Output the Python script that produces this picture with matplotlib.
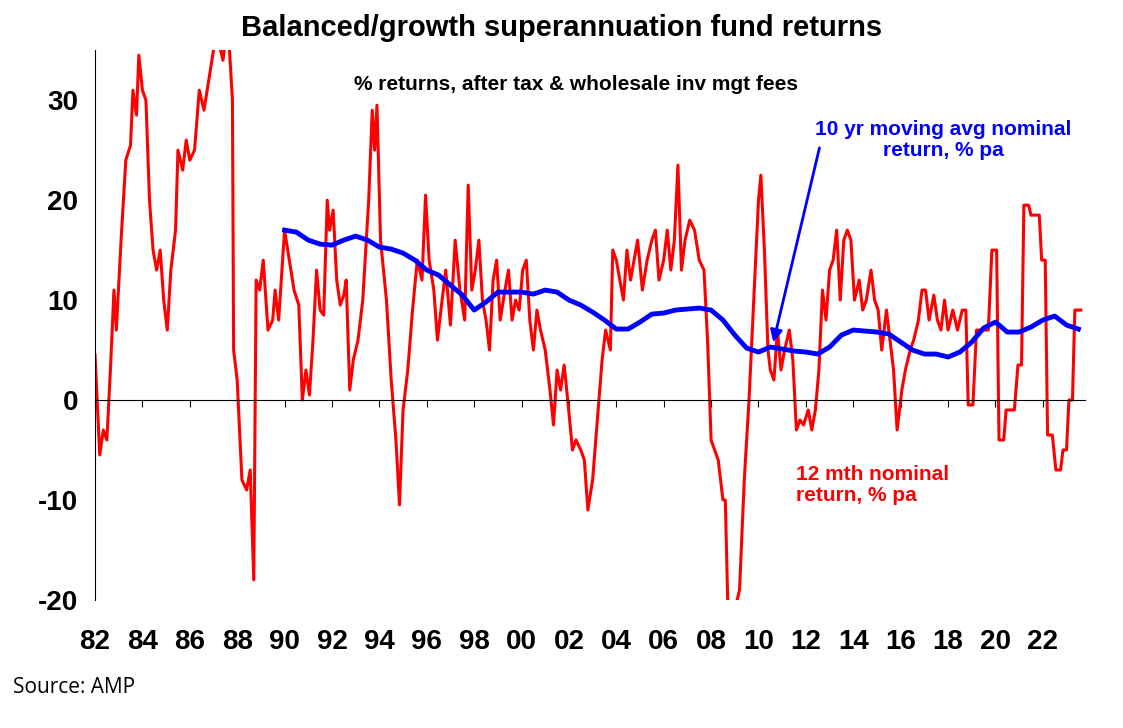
import numpy as np
import matplotlib.pyplot as plt

plt.rcParams['font.family'] = ['Liberation Sans', 'DejaVu Sans']
plt.rcParams['axes.unicode_minus'] = False

# 12 month nominal return (year, % pa)
red_year = [1982.0, 1982.2, 1982.35, 1982.5, 1982.65, 1982.8, 1982.9, 1983.1, 1983.3, 1983.5, 1983.6, 1983.75,
            1983.85, 1984.0, 1984.15, 1984.3, 1984.45, 1984.6, 1984.75, 1984.9, 1985.05, 1985.2, 1985.4, 1985.5,
            1985.7, 1985.85, 1986.0, 1986.2, 1986.4, 1986.6, 1986.8, 1987.0, 1987.2, 1987.4, 1987.6, 1987.8,
            1987.85, 1988.0, 1988.2, 1988.4, 1988.55, 1988.7, 1988.8, 1988.95, 1989.1, 1989.3, 1989.5, 1989.6,
            1989.75, 1990.0, 1990.2, 1990.4, 1990.6, 1990.75, 1990.9, 1991.05, 1991.2, 1991.35, 1991.5, 1991.65,
            1991.8, 1991.9, 1992.05, 1992.2, 1992.35, 1992.5, 1992.6, 1992.75, 1992.9, 1993.1, 1993.3, 1993.55,
            1993.7, 1993.8, 1993.9, 1994.05, 1994.3, 1994.5, 1994.7, 1994.85, 1995.0, 1995.2, 1995.4, 1995.6,
            1995.8, 1995.95, 1996.1, 1996.3, 1996.45, 1996.6, 1996.8, 1997.0, 1997.2, 1997.4, 1997.6, 1997.75,
            1997.9, 1998.05, 1998.2, 1998.35, 1998.5, 1998.65, 1998.8, 1998.95, 1999.1, 1999.3, 1999.45, 1999.6,
            1999.75, 1999.9, 2000.05, 2000.2, 2000.35, 2000.5, 2000.65, 2000.8, 2001.0, 2001.2, 2001.35, 2001.5,
            2001.65, 2001.8, 2001.95, 2002.15, 2002.3, 2002.5, 2002.65, 2002.8, 2003.0, 2003.2, 2003.4, 2003.55,
            2003.75, 2003.85, 2004.0, 2004.15, 2004.3, 2004.45, 2004.6, 2004.75, 2004.9, 2005.1, 2005.3, 2005.5,
            2005.65, 2005.8, 2006.0, 2006.15, 2006.3, 2006.45, 2006.6, 2006.75, 2006.9, 2007.1, 2007.3, 2007.5,
            2007.7, 2007.85, 2008.0, 2008.15, 2008.3, 2008.5, 2008.6, 2008.7, 2009.0, 2009.2, 2009.4, 2009.6,
            2009.8, 2010.0, 2010.1, 2010.25, 2010.4, 2010.5, 2010.65, 2010.8, 2010.95, 2011.1, 2011.3, 2011.45,
            2011.6, 2011.75, 2011.9, 2012.1, 2012.25, 2012.4, 2012.55, 2012.7, 2012.85, 2013.0, 2013.15, 2013.3,
            2013.45, 2013.6, 2013.75, 2013.9, 2014.05, 2014.25, 2014.4, 2014.55, 2014.75, 2014.9, 2015.05, 2015.2,
            2015.4, 2015.55, 2015.7, 2015.85, 2016.05, 2016.2, 2016.4, 2016.55, 2016.75, 2016.9, 2017.05, 2017.2,
            2017.4, 2017.55, 2017.7, 2017.85, 2018.0, 2018.2, 2018.4, 2018.6, 2018.75, 2018.85, 2019.05, 2019.2,
            2019.4, 2019.55, 2019.7, 2019.85, 2019.95, 2020.05, 2020.15, 2020.35, 2020.45, 2020.65, 2020.8, 2020.95,
            2021.1, 2021.2, 2021.4, 2021.5, 2021.7, 2021.85, 2021.95, 2022.1, 2022.2, 2022.4, 2022.55, 2022.75,
            2022.85, 2023.0, 2023.1, 2023.25, 2023.35, 2023.6]
red_val = [4.5, -5.5, -3, -4, 3, 11, 7, 16, 24, 25.5, 31, 28.5,
           34.5, 31, 30, 20, 15, 13, 15, 10, 7, 13, 17, 25,
           23, 26, 24, 25, 31, 29, 32, 35, 36, 34, 38, 30,
           5, 2, -8, -9, -7, -18, 12, 11, 14, 7, 8, 11,
           8, 17, 14, 11, 9.5, 0, 3, 0.5, 6, 13, 9, 8.5,
           20, 17, 19, 12, 9.5, 10.5, 12, 1, 4, 6, 10, 20,
           29, 25, 29.5, 16, 10, 2, -4, -10.5, -1, 3, 9, 14,
           12, 20.5, 14, 11, 6, 9, 13, 7.5, 16, 11, 8, 21.5,
           11, 13, 16, 10, 8, 5, 12, 14, 8, 11, 13, 8,
           10, 9, 13, 14, 8, 5, 9, 7, 5, 1, -2.5, 3,
           1, 3.5, 0, -5, -4, -5, -6, -11, -8, -2, 4, 7,
           5, 15, 14, 12, 10, 15, 12, 14, 16, 11, 14, 16,
           17, 12, 14, 17, 13, 16, 23.5, 13, 16, 18, 17, 14,
           13, 6, -4, -5, -6, -10, -10, -20, -21, -19, -8, 0,
           10, 20, 22.5, 15, 5, 3, 2, 7, 3, 5, 7, 4,
           -3, -2, -2.5, -1, -3, -1, 3, 11, 8, 13, 14, 17,
           10, 16, 17, 16, 10, 12, 9, 10, 13, 10, 9, 5,
           9, 6, 3, -3, 1, 3, 5, 6, 8, 11, 11, 8,
           10.5, 8, 7, 10, 7, 9, 7, 9, 9, -0.5, -0.5, 7,
           7, 7, 7, 15, 15, 15, -4, -4, -1, -1, -1, 3.5,
           3.5, 19.5, 19.5, 18.5, 18.5, 18.5, 14, 14, -3.5, -3.5, -7, -7,
           -5, -5, 0, 0, 9, 9]

# 10 yr moving average nominal return
blue_year = [1990.0, 1990.5, 1991, 1991.5, 1992, 1992.5, 1993, 1993.5, 1994, 1994.5, 1995, 1995.5, 1996,
             1996.5, 1997, 1997.5, 1998, 1998.5, 1999, 1999.5, 2000, 2000.5, 2001, 2001.5, 2002, 2002.5,
             2003, 2003.5, 2004, 2004.5, 2005, 2005.5, 2006, 2006.5, 2007, 2007.5, 2008, 2008.5, 2009,
             2009.5, 2010, 2010.5, 2011, 2011.5, 2012, 2012.5, 2013, 2013.5, 2014, 2014.5, 2015, 2015.5,
             2016, 2016.5, 2017, 2017.5, 2018, 2018.5, 2019, 2019.5, 2020, 2020.5, 2021, 2021.5, 2022,
             2022.5, 2023, 2023.5]
blue_val = [17, 16.8, 16, 15.6, 15.5, 16, 16.4, 16, 15.3, 15.1, 14.7, 14, 13,
            12.5, 11.5, 10.5, 9, 9.8, 10.8, 10.8, 10.8, 10.6, 11, 10.8, 10, 9.5,
            8.8, 8, 7.1, 7.1, 7.8, 8.6, 8.7, 9, 9.1, 9.2, 9.0, 8, 6.5,
            5.2, 4.8, 5.3, 5.1, 4.9, 4.8, 4.6, 5.3, 6.5, 7, 6.9, 6.8, 6.6,
            5.8, 5.0, 4.6, 4.6, 4.3, 4.8, 5.8, 7.2, 7.8, 6.8, 6.8, 7.3, 8.0,
            8.4, 7.5, 7.1]

tick_years = list(range(1982, 2023, 2))
tick_labels = [f"{y % 100:02d}" for y in tick_years]

fig = plt.figure(figsize=(11.23, 7.28), dpi=100)
ax = fig.add_axes([0.0846, 0.176, 0.882, 0.755])

ax.plot(red_year, red_val, color='#ff0000', lw=2.2)
ax.plot(blue_year, blue_val, color='#0000ff', lw=3.5)

ax.set_xlim(1982, 2023.8)
ax.set_ylim(-20, 35)
ax.set_yticks([-20, -10, 0, 10, 20, 30])
ax.set_xticks(tick_years)
ax.set_xticklabels(tick_labels)
for s in ['top', 'right']:
    ax.spines[s].set_visible(False)
ax.spines['bottom'].set_position(('data', 0))
ax.tick_params(axis='x', direction='out', length=5, pad=160, labelsize=20)
ax.tick_params(axis='y', length=0, labelsize=20, pad=12)
for t in ax.get_xticklabels() + ax.get_yticklabels():
    t.set_fontweight('bold')

fig.text(0.5, 0.962, "Balanced/growth superannuation fund returns", ha='center', va='center',
         fontsize=21, fontweight='bold')
ax.text(2002.3, 31.6, "% returns, after tax & wholesale inv mgt fees", ha='center', va='center',
        fontsize=15, fontweight='bold')
ax.text(2017.8, 26, "10 yr moving avg nominal\nreturn, % pa", ha='center', va='center',
        fontsize=15, fontweight='bold', color='#0000ff', linespacing=1.1)
ax.annotate("", xy=(2010.6, 5.5), xytext=(2012.6, 25.5),
            arrowprops=dict(arrowstyle='-|>', color='#0000ff', lw=2, mutation_scale=18))
ax.text(2011.6, -8.5, "12 mth nominal\nreturn, % pa", ha='left', va='center',
        fontsize=15, fontweight='bold', color='#ff0000', linespacing=1.1)
fig.text(0.012, 0.055, "Source: AMP", ha='left', va='center', fontsize=15,
         family=['Open Sans', 'DejaVu Sans'])

fig.savefig("out.png", dpi=100)
